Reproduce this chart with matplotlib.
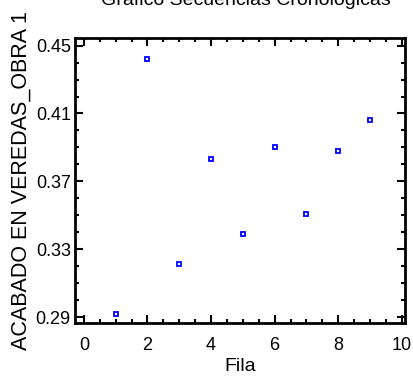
import matplotlib
matplotlib.use("Agg")
import matplotlib.pyplot as plt
from matplotlib.ticker import MultipleLocator

fila = [1, 2, 3, 4, 5, 6, 7, 8, 9]
acabado = [0.292, 0.442, 0.321, 0.383, 0.339, 0.390, 0.351, 0.388, 0.406]
xticks = [0, 2, 4, 6, 8, 10]
yticks = [0.29, 0.33, 0.37, 0.41, 0.45]

plt.rcParams['font.family'] = ['Liberation Sans', 'DejaVu Sans']

fig = plt.figure(figsize=(4.13, 3.81), dpi=100)
ax = fig.add_axes([75 / 413, 58 / 381, 330 / 413, 285 / 381])

ax.plot(fila, acabado, linestyle='none', marker='s', markersize=3.3,
        markerfacecolor='white', markeredgecolor='#0000ff', markeredgewidth=1.3)

ax.set_xlim(-0.28, 10.1)
ax.set_ylim(0.2865, 0.4545)
ax.set_xticks(xticks)
ax.set_yticks(yticks)
ax.set_yticklabels([f'{v:.2f}' for v in yticks])
ax.xaxis.set_minor_locator(MultipleLocator(0.5))
ax.yaxis.set_minor_locator(MultipleLocator(0.01))
ax.tick_params(which='both', direction='in', top=True, right=True, width=1.5,
               labelsize=13, colors='black')
ax.tick_params(which='major', length=6)
ax.tick_params(axis='y', which='major', pad=3)
ax.tick_params(axis='x', which='major', pad=10)
ax.tick_params(which='minor', length=3)
for s in ax.spines.values():
    s.set_linewidth(2)

ax.set_xlabel('Fila', fontsize=14, labelpad=3)
ax.set_ylabel('ACABADO EN VEREDAS_OBRA 1', fontsize=15.5)
ax.yaxis.set_label_coords(-0.13, 0.5)
# the title sits mostly above the top edge, as in the original export
fig.text(0.595, 1 - 5 / 381, 'Gráfico Secuencias Cronológicas', ha='center',
         va='baseline', fontsize=14)

fig.savefig('out.png', dpi=100)
